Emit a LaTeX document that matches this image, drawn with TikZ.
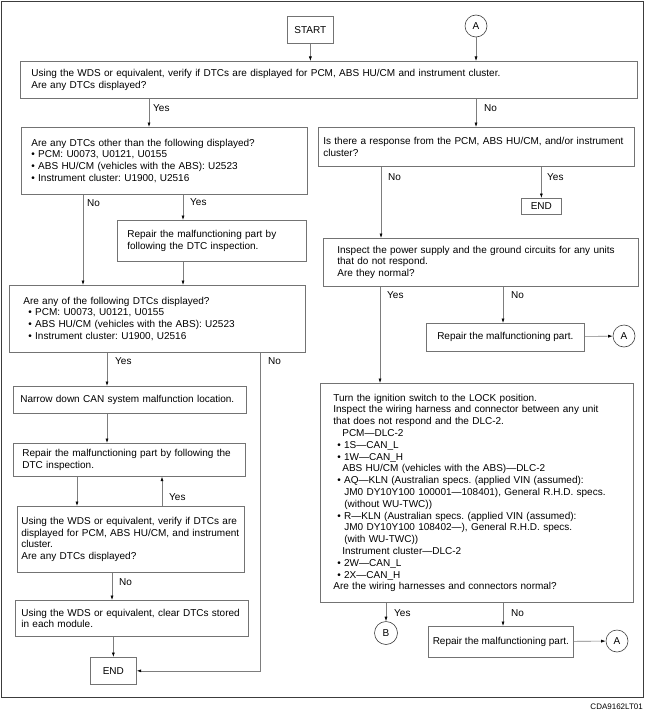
\documentclass[tikz,border=0pt]{standalone}
\usepackage{fontspec}
\setmainfont{Liberation Sans}
\usetikzlibrary{arrows.meta}
\definecolor{framegray}{RGB}{60,60,60}
\definecolor{boxgray}{RGB}{115,115,115}
\definecolor{linegray}{RGB}{125,125,125}
\newcommand{\bul}{\textbullet\ }
\frenchspacing

\begin{document}
\begin{tikzpicture}[
    x=1pt, y=-1pt,
    box/.style={draw=boxgray, line width=0.7pt, fill=white, anchor=north west, align=left,
        inner xsep=0pt, inner ysep=0pt, font=\fontsize{10}{11.8}\selectfont},
    term/.style={draw=boxgray, line width=0.7pt, fill=white, anchor=north west, inner sep=0pt,
        font=\fontsize{10}{12}\selectfont},
    conn/.style={circle, draw=black!75, line width=0.6pt, minimum size=22pt, inner sep=0pt,
        font=\fontsize{10}{12}\selectfont},
    lbl/.style={anchor=west, inner sep=0pt, font=\fontsize{10}{12}\selectfont},
    flow/.style={draw=linegray, line width=0.6pt, -{Latex[length=4.5pt, width=3pt, color=black]}},
]
    \fill[white] (0,0) rectangle (645,717);
    \useasboundingbox (0,0) rectangle (645,717);
    \draw[framegray, line width=0.8pt] (1,1) rectangle (643,697);

    % terminals and connectors
    \node[term, minimum width=46pt, minimum height=27pt] (start) at (287,16) {START};
    \node[conn] (atop) at (476,26) {A};
    \node[term, minimum width=40pt, minimum height=16pt] (end2) at (521,198) {END};
    \node[term, minimum width=46pt, minimum height=27pt] (end1) at (90,657) {END};
    \node[conn] (a1) at (624,336) {A};
    \node[conn] (a2) at (617,641) {A};
    \node[conn, minimum size=23pt] (bb) at (386,633) {B};

    % top check
    \node[box, minimum width=617pt, minimum height=37pt, text width=595pt] (checkall) at (20,61) {Using the WDS or equivalent, verify if DTCs are displayed for PCM, ABS HU/CM and instrument cluster.\\
        Are any DTCs displayed?};

    % left column
    \node[box, minimum width=286pt, minimum height=67pt, text width=266pt] (other) at (21,127) {Are any DTCs other than the following displayed?\\
        \bul PCM: U0073, U0121, U0155\\
        \bul ABS HU/CM (vehicles with the ABS): U2523\\
        \bul Instrument cluster: U1900, U2516};
    \node[box, minimum width=189pt, minimum height=41pt, text width=169pt] (repdtc1) at (117,220) {Repair the malfunctioning part by\\
        following the DTC inspection.};
    \node[box, minimum width=296pt, minimum height=67pt, text width=268pt] (listed) at (9,285) {Are any of the following DTCs displayed?\\
        \hspace*{5pt}\bul PCM: U0073, U0121, U0155\\
        \hspace*{5pt}\bul ABS HU/CM (vehicles with the ABS): U2523\\
        \hspace*{5pt}\bul Instrument cluster: U1900, U2516};
    \node[box, minimum width=233pt, minimum height=27pt, text width=219pt] (narrow) at (13,386) {Narrow down CAN system malfunction location.};
    \node[box, minimum width=232pt, minimum height=33pt, text width=214pt] (repdtc2) at (13,443) {Repair the malfunctioning part by following the\\
        DTC inspection.};
    \node[box, minimum width=227pt, minimum height=66pt, text width=219pt] (verify) at (17,506) {Using the WDS or equivalent, verify if DTCs are\\
        displayed for PCM, ABS HU/CM, and instrument\\
        cluster.\\
        Are any DTCs displayed?};
    \node[box, minimum width=233pt, minimum height=36pt, text width=221pt] (clear) at (15,600) {Using the WDS or equivalent, clear DTCs stored\\
        in each module.};

    % right column
    \node[box, minimum width=316pt, minimum height=39pt, text width=306pt] (response) at (318,127) {Is there a response from the PCM, ABS HU/CM, and/or instrument\\
        cluster?};
    \node[box, minimum width=315pt, minimum height=48pt, text width=287pt] (power) at (323,238) {Inspect the power supply and the ground circuits for any units\\
        that do not respond.\\
        Are they normal?};
    \node[term, minimum width=158pt, minimum height=28pt] (repair1) at (426,323) {Repair the malfunctioning part.};
    \node[box, minimum width=313pt, minimum height=219pt, text width=287pt] (wiring) at (320,383) {Turn the ignition switch to the LOCK position.\\
        Inspect the wiring harness and connector between any unit\\
        that does not respond and the DLC-2.\\
        \hspace*{9pt}PCM—DLC-2\\
        \hspace*{4pt}\bul 1S—CAN\_L\\
        \hspace*{4pt}\bul 1W—CAN\_H\\
        \hspace*{9pt}ABS HU/CM (vehicles with the ABS)—DLC-2\\
        \hspace*{4pt}\bul AQ—KLN (Australian specs. (applied VIN (assumed):\\
        \hspace*{11pt}JM0 DY10Y100 100001—108401), General R.H.D. specs.\\
        \hspace*{11pt}(without WU-TWC))\\
        \hspace*{4pt}\bul R—KLN (Australian specs. (applied VIN (assumed):\\
        \hspace*{11pt}JM0 DY10Y100 108402—), General R.H.D. specs.\\
        \hspace*{11pt}(with WU-TWC))\\
        \hspace*{9pt}Instrument cluster—DLC-2\\
        \hspace*{4pt}\bul 2W—CAN\_L\\
        \hspace*{4pt}\bul 2X—CAN\_H\\
        Are the wiring harnesses and connectors normal?};
    \node[term, minimum width=145pt, minimum height=31pt] (repair2) at (428,626) {Repair the malfunctioning part.};

    % branch columns
    \foreach \n/\x in {yesA/149, noB/83, yesB/183, noC/381, yesD/380, noD/503,
                       yesE/107, noE/260, dnF/77, upF/162, noF/112}
        \coordinate (\n) at (\x,0);

    % labels
    \node[lbl] (lyesA) at (153,108) {Yes};
    \node[lbl] (lnoA) at (484,108) {No};
    \node[lbl] (lnoB) at (87,203) {No};
    \node[lbl] (lyesB) at (190,202) {Yes};
    \node[lbl] (lnoC) at (388,177) {No};
    \node[lbl] (lyesC) at (547,177) {Yes};
    \node[lbl] (lyesD) at (387,295) {Yes};
    \node[lbl] (lnoD) at (511,295) {No};
    \node[lbl] (lyesE) at (115,361) {Yes};
    \node[lbl] (lnoE) at (268,361) {No};
    \node[lbl] (lyesF) at (169,497) {Yes};
    \node[lbl] (lnoF) at (119,582) {No};
    \node[lbl] (lyesG) at (394,613) {Yes};
    \node[lbl] (lnoG) at (511,613) {No};

    % connectors
    \draw[flow] (start) -- (start |- checkall.north);
    \draw[flow] (atop) -- (atop |- checkall.north);
    \draw[flow] (checkall.south -| yesA) -- (other.north -| yesA);
    \draw[flow] (checkall.south -| atop) -- (response.north -| atop);
    \draw[flow] (other.south -| noB) -- (listed.north -| noB);
    \draw[flow] (other.south -| yesB) -- (repdtc1.north -| yesB);
    \draw[flow] (repdtc1.south -| yesB) -- (listed.north -| yesB);
    \draw[flow] (response.south -| noC) -- (power.north -| noC);
    \draw[flow] (response.south -| end2) -- (end2.north);
    \draw[flow] (power.south -| yesD) -- (wiring.north -| yesD);
    \draw[flow] (power.south -| noD) -- (repair1.north -| noD);
    \draw[flow] (repair1) -- (a1);
    \draw[flow] (listed.south -| yesE) -- (narrow.north -| yesE);
    \draw[flow] (listed.south -| noE) |- (end1.east);
    \draw[flow] (narrow.south -| yesE) -- (repdtc2.north -| yesE);
    \draw[flow] (repdtc2.south -| dnF) -- (verify.north -| dnF);
    \draw[flow] (verify.north -| upF) -- (repdtc2.south -| upF);
    \draw[flow] (verify.south -| noF) -- (clear.north -| noF);
    \draw[flow] (clear.south -| end1) -- (end1.north);
    \draw[flow] (wiring.south -| bb) -- (bb.north);
    \draw[flow] (wiring.south -| noD) -- (repair2.north -| noD);
    \draw[flow] (repair2) -- (a2);

    \node[anchor=east, inner sep=0pt, font=\fontsize{8}{9}\selectfont] (code) at (643,707) {CDA9162LT01};
\end{tikzpicture}
\end{document}
